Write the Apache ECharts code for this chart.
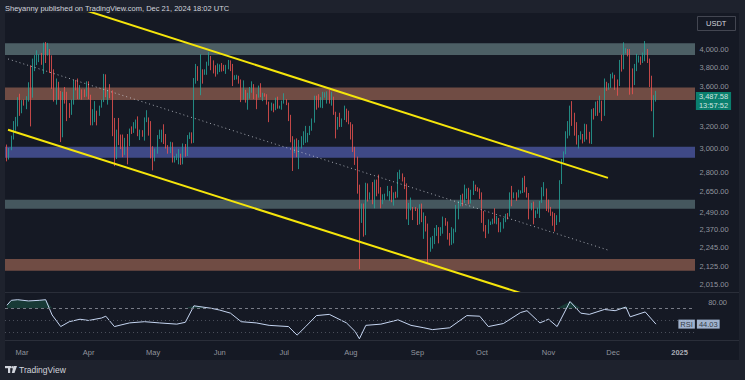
<!DOCTYPE html>
<html><head><meta charset="utf-8">
<script src="https://cdn.jsdelivr.net/npm/echarts@6/dist/echarts.min.js"></script>
<style>html,body{margin:0;padding:0;background:#1e222d;}#c{width:745px;height:380px;}</style>
</head><body><div id="c"></div>
<script>
// ETH/USDT daily candles: [open, close, low, high], starting 2024-02-23
const feb = [[2970,2922,2890,3035],[2922,2993,2905,3005],[2993,3113,2985,3115],[3113,3177,3080,3250],[3177,3244,3160,3290],[3244,3384,3200,3485],[3384,3340,3300,3520]];
const mar = [[3340,3433,3325,3455],[3433,3420,3400,3460],[3420,3488,3365,3495],[3488,3627,3440,3640],[3627,3553,3200,3825],[3553,3818,3480,3900],[3818,3868,3760,3940],[3868,3884,3827,3995],[3884,3908,3860,3950],[3908,3878,3830,3965],[3878,4066,3730,4086],[4066,3980,3850,4093],[3980,4005,3935,4083],[4005,3882,3740,4010],[3882,3735,3570,3937],[3735,3525,3440,3780],[3525,3645,3410,3680],[3645,3520,3460,3645],[3520,3160,3057,3548],[3160,3515,3100,3540],[3515,3490,3420,3590],[3490,3335,3250,3540],[3335,3330,3280,3425],[3330,3450,3310,3460],[3450,3590,3410,3665],[3590,3585,3555,3665],[3585,3500,3465,3680],[3500,3560,3465,3610],[3560,3510,3460,3565],[3510,3505,3485,3565],[3505,3645,3490,3650]];
const apr = [[3645,3505,3465,3650],[3505,3280,3210,3510],[3280,3310,3210,3365],[3310,3330,3240,3445],[3330,3320,3210,3350],[3320,3390,3300,3400],[3390,3455,3380,3460],[3455,3700,3435,3730],[3700,3505,3485,3725],[3505,3545,3410,3560],[3545,3505,3475,3620],[3505,3240,3110,3555],[3240,3010,2850,3280],[3010,3155,2910,3170],[3155,3100,3030,3280],[3100,3085,2995,3125],[3085,2985,2925,3125],[2985,3065,2945,3095],[3065,3055,2865,3130],[3055,3155,3020,3180],[3155,3145,3130,3200],[3145,3200,3140,3240],[3200,3220,3180,3265],[3220,3140,3110,3295],[3140,3155,3075,3170],[3155,3130,3105,3165],[3130,3255,3070,3285],[3255,3265,3240,3355],[3265,3215,3115,3285],[3215,3010,2915,3250]];
const may = [[3010,2970,2815,3020],[2970,2990,2890,3000],[2990,3100,2955,3120],[3100,3115,3085,3170],[3115,3140,3055,3170],[3140,3065,3040,3220],[3065,3005,3000,3130],[3005,2970,2955,3030],[2970,3035,2960,3060],[3035,2910,2880,3055],[2910,2910,2880,2935],[2910,2930,2900,2955],[2930,2950,2865,2995],[2950,2880,2860,2955],[2880,3035,2865,3045],[3035,2945,2930,3040],[2945,3090,2935,3120],[3090,3120,3085,3145],[3120,3070,3045,3145],[3070,3665,3050,3685],[3665,3790,3625,3840],[3790,3740,3655,3815],[3740,3780,3505,3950],[3780,3730,3625,3780],[3730,3750,3720,3780],[3750,3830,3720,3865],[3830,3890,3820,3975],[3890,3840,3770,3930],[3840,3765,3735,3880],[3765,3745,3700,3825],[3745,3760,3725,3845]];
const jun = [[3760,3815,3750,3835],[3815,3780,3755,3850],[3780,3765,3760,3830],[3765,3810,3730,3830],[3810,3865,3780,3885],[3865,3810,3760,3880],[3810,3680,3600,3840],[3680,3680,3665,3715],[3680,3705,3670,3720],[3705,3665,3625,3710],[3665,3500,3435,3670],[3500,3560,3460,3660],[3560,3470,3430,3560],[3470,3480,3360,3530],[3480,3565,3470,3590],[3565,3620,3530,3650],[3620,3510,3465,3620],[3510,3485,3365,3515],[3485,3560,3480,3605],[3560,3515,3485,3630],[3515,3515,3445,3530],[3515,3495,3490,3525],[3495,3420,3410,3515],[3420,3350,3240,3440],[3350,3390,3350,3430],[3390,3370,3335,3420],[3370,3450,3355,3480],[3450,3375,3370,3490],[3375,3380,3370,3400],[3380,3435,3360,3450]];
const jul = [[3435,3440,3420,3525],[3440,3420,3405,3465],[3420,3295,3250,3430],[3295,3060,3055,3310],[3060,2980,2810,3110],[2980,3070,2960,3080],[3070,2930,2925,3090],[2930,3020,2825,3075],[3020,3065,3000,3110],[3065,3100,3030,3155],[3100,3100,3050,3205],[3100,3130,3055,3140],[3130,3175,3120,3205],[3175,3245,3160,3275],[3245,3485,3235,3500],[3485,3445,3360,3500],[3445,3390,3380,3515],[3390,3425,3380,3485],[3425,3505,3375,3540],[3505,3520,3480,3535],[3520,3535,3420,3545],[3535,3440,3420,3560],[3440,3480,3400,3540],[3480,3335,3310,3490],[3335,3175,3090,3340],[3175,3275,3170,3290],[3275,3250,3195,3330],[3250,3270,3195,3275],[3270,3320,3260,3400],[3320,3280,3240,3370],[3280,3230,3220,3350]];
const aug = [[3230,3205,3080,3240],[3205,2990,2970,3220],[2990,2905,2860,3015],[2905,2690,2630,2930],[2690,2420,2110,2700],[2420,2460,2415,2555],[2460,2340,2320,2555],[2340,2685,2330,2715],[2685,2600,2570,2710],[2600,2610,2585,2640],[2610,2555,2550,2720],[2555,2720,2520,2740],[2720,2700,2610,2740],[2700,2660,2630,2780],[2660,2570,2520,2680],[2570,2590,2550,2625],[2590,2615,2580,2630],[2615,2615,2610,2690],[2615,2635,2575,2650],[2635,2570,2565,2690],[2570,2630,2540,2640],[2630,2625,2595,2645],[2625,2765,2600,2800],[2765,2770,2745,2820],[2770,2745,2725,2790],[2745,2680,2665,2760],[2680,2455,2440,2710],[2455,2530,2400,2560],[2530,2530,2505,2600],[2530,2525,2435,2530],[2525,2515,2500,2530]];
const sep = [[2515,2425,2400,2520],[2425,2540,2405,2550],[2540,2425,2420,2555],[2425,2450,2305,2490],[2450,2370,2355,2465],[2370,2225,2150,2410],[2225,2275,2220,2315],[2275,2295,2240,2325],[2295,2360,2270,2380],[2360,2390,2325,2400],[2390,2340,2275,2385],[2340,2360,2325,2385],[2360,2440,2340,2460],[2440,2415,2395,2450],[2415,2315,2300,2425],[2315,2295,2260,2345],[2295,2340,2265,2385],[2340,2370,2275,2375],[2370,2465,2350,2545],[2465,2560,2440,2575],[2560,2615,2535,2620],[2615,2580,2535,2630],[2580,2645,2560,2700],[2645,2650,2590,2670],[2650,2580,2550,2675],[2580,2630,2555,2660],[2630,2695,2620,2730],[2695,2680,2650,2700],[2680,2660,2645,2680],[2660,2600,2590,2670]];
const oct = [[2600,2450,2415,2640],[2450,2365,2355,2500],[2365,2350,2310,2400],[2350,2415,2340,2440],[2415,2415,2400,2425],[2415,2440,2405,2445],[2440,2420,2410,2520],[2420,2440,2405,2465],[2440,2370,2350,2450],[2370,2385,2350,2420],[2385,2440,2375,2450],[2440,2475,2420,2480],[2475,2465,2440,2485],[2465,2630,2460,2640],[2630,2605,2535,2690],[2605,2610,2595,2640],[2610,2605,2575,2640],[2605,2640,2600,2660],[2640,2645,2630,2655],[2645,2745,2635,2755],[2745,2665,2640,2770],[2665,2620,2600,2680],[2620,2525,2440,2635],[2525,2535,2505,2560],[2535,2475,2405,2570],[2475,2490,2450,2505],[2490,2505,2480,2525],[2505,2565,2450,2575],[2565,2640,2560,2680],[2640,2660,2610,2720],[2660,2515,2500,2670]];
const nov = [[2515,2510,2490,2585],[2510,2490,2465,2530],[2490,2455,2395,2495],[2455,2400,2355,2485],[2400,2425,2400,2470],[2425,2720,2420,2735],[2720,2900,2705,2910],[2900,2960,2880,2975],[2960,3125,2950,3155],[3125,3180,3090,3250],[3180,3370,3115,3400],[3370,3240,3205,3445],[3240,3190,3115,3330],[3190,3060,3035,3240],[3060,3110,3000,3120],[3110,3125,3080,3155],[3125,3075,3045,3130],[3075,3205,3060,3225],[3205,3105,3080,3220],[3105,3065,3045,3150],[3065,3355,3040,3365],[3355,3325,3265,3375],[3325,3390,3300,3440],[3390,3360,3300,3450],[3360,3415,3330,3500],[3415,3325,3250,3450],[3325,3650,3300,3680],[3650,3585,3550,3645],[3585,3590,3560,3630],[3590,3700,3580,3730]];
const dec = [[3700,3705,3680,3745],[3705,3640,3560,3720],[3640,3615,3500,3670],[3615,3835,3600,3885],[3835,3785,3755,3945],[3785,4000,3780,4090],[4000,4005,3960,4020],[4005,4000,3925,4010],[4000,3710,3510,4010],[3710,3625,3515,3790],[3625,3830,3610,3840],[3830,3880,3760,3955],[3880,3905,3855,3935],[3905,3875,3830,3925],[3875,3960,3850,3970],[3960,3990,3870,4105],[3990,3875,3850,4010],[3875,3620,3590,3900],[3620,3420,3345,3710],[3420,3470,3100,3505],[3470,3487.58,3440,3550]];

// horizontal zones [low, high]
const zoneGrayTop = [3940, 4080];
const zoneBrownTop = [3456, 3585];
const zoneBlue = [2920, 3015];
const zoneGrayLow = [2516, 2583];
const zoneBrownLow = [2100, 2174];

// channel lines [[date, price], [date, price]]
const upperLine = [['2024-03-28T00:00', 4513], ['2024-11-28T16:00', 2754]];
const lowerLine = [['2024-02-23T12:00', 3169], ['2024-10-23T10:00', 1951]];
const midLine = [['2024-02-23T12:00', 3896], ['2024-11-28T16:00', 2231]];

// price scale ticks
const priceTicks = [4000, 3800, 3600, 3200, 3000, 2800, 2650, 2490, 2370, 2245, 2125, 2015];
const lastPrice = 3487.58;
const countdown = '13:57:52';

// RSI readings
const rsiDates = ['2024-02-23','2024-02-25','2024-02-28','2024-03-04','2024-03-09','2024-03-12','2024-03-15','2024-03-19','2024-03-23','2024-03-28','2024-04-01','2024-04-07','2024-04-09','2024-04-13','2024-04-20','2024-04-27','2024-05-04','2024-05-12','2024-05-16','2024-05-20','2024-05-28','2024-06-01','2024-06-06','2024-06-11','2024-06-18','2024-06-24','2024-07-03','2024-07-07','2024-07-11','2024-07-16','2024-07-22','2024-07-30','2024-08-03','2024-08-05','2024-08-08','2024-08-15','2024-08-23','2024-08-29','2024-09-04','2024-09-08','2024-09-16','2024-09-24','2024-09-30','2024-10-04','2024-10-11','2024-10-19','2024-10-22','2024-10-28','2024-11-01','2024-11-05','2024-11-11','2024-11-16','2024-11-20','2024-11-27','2024-12-02','2024-12-07','2024-12-09','2024-12-16','2024-12-21'];
const rsiVals = [75,83,84,82,83,84,59,40,48,52,50,54,57,40,46,48,46,44,47,74,70,67,62,48,46,42,40,26,40,58,60,46,32,20,42,44,51,42,38,35,38,58,57,40,45,63,66,46,52,40,81,62,60,68,66,72,56,64,44];
const rsiTicks = [80];
const rsiLast = 44.03;

// axis month labels
const monthDates = ['2024-03-01','2024-04-01','2024-05-01','2024-06-01','2024-07-01','2024-08-01','2024-09-01','2024-10-01','2024-11-01','2024-12-01','2025-01-01'];
const monthLabels = ['Mar','Apr','May','Jun','Jul','Aug','Sep','Oct','Nov','Dec','2025'];

const T = s => new Date(s.length === 10 ? s + 'T00:00' : s).getTime();
const FONT = 'Liberation Sans, Arial, sans-serif';
const candles = [].concat(feb, mar, apr, may, jun, jul, aug, sep, oct, nov, dec);
const candleData = candles.map((r, i) => [new Date(2024, 1, 23 + i).getTime(), r[0], r[1], r[2], r[3]]);
const rsiData = rsiDates.map((d, i) => [T(d), rsiVals[i]]);
const rsiHigh = rsiDates.map((d, i) => [T(d), Math.max(70, rsiVals[i])]);
const fmt = v => v.toLocaleString('en-US', {minimumFractionDigits: 2, maximumFractionDigits: 2});

const X_MIN = T('2024-02-22T02:00'), X_MAX = T('2025-01-08T04:00');
const P_MIN = 1974, P_MAX = 4455;
const R_MIN = 18, R_MAX = 95;

const zone = (z, color) => [{yAxis: z[0], itemStyle: {color}}, {yAxis: z[1]}];
const lineData = l => l.map(p => [T(p[0]), p[1]]);

const chart = echarts.init(document.getElementById('c'), null, {renderer: 'svg'});
chart.setOption({
  animation: false,
  backgroundColor: '#1e222d',
  textStyle: {fontFamily: FONT},
  grid: [
    {left: 5, width: 690, top: 13, height: 279},
    {left: 5, width: 690, top: 293, height: 47},
    {left: 695, width: 44, top: 13, height: 279},
    {left: 695, width: 44, top: 293, height: 47},
    {left: 5, width: 690, top: 341, height: 19}
  ],
  xAxis: [
    {gridIndex: 0, type: 'time', min: X_MIN, max: X_MAX, show: false},
    {gridIndex: 1, type: 'time', min: X_MIN, max: X_MAX, show: false},
    {gridIndex: 2, type: 'value', min: 0, max: 10, show: false},
    {gridIndex: 3, type: 'value', min: 0, max: 10, show: false},
    {gridIndex: 4, type: 'time', min: X_MIN, max: X_MAX, show: false}
  ],
  yAxis: [
    {gridIndex: 0, type: 'log', logBase: 10, min: P_MIN, max: P_MAX, show: false},
    {gridIndex: 1, type: 'value', min: R_MIN, max: R_MAX, show: false},
    {gridIndex: 2, type: 'log', logBase: 10, min: P_MIN, max: P_MAX, show: false},
    {gridIndex: 3, type: 'value', min: R_MIN, max: R_MAX, show: false},
    {gridIndex: 4, type: 'value', min: 0, max: 1, show: false}
  ],
  graphic: [
    {type: 'rect', z: -10, silent: true, shape: {x: 5, y: 13, width: 734, height: 347}, style: {fill: '#151924'}},
    {type: 'line', z: 10, silent: true, shape: {x1: 5, y1: 292.5, x2: 739, y2: 292.5}, style: {stroke: '#2a2e39', lineWidth: 1}},
    {type: 'line', z: 10, silent: true, shape: {x1: 5, y1: 340.5, x2: 739, y2: 340.5}, style: {stroke: '#2a2e39', lineWidth: 1}},
    {type: 'text', z: 10, left: 5, top: 4, style: {text: 'Sheyanny published on TradingView.com, Dec 21, 2024 18:02 UTC', fill: '#d1d4dc', fontSize: 7.5, fontFamily: FONT}},
    {type: 'rect', z: 10, shape: {x: 697.5, y: 16.5, width: 38, height: 14}, style: {fill: '#151924', stroke: '#434651', lineWidth: 1}},
    {type: 'text', z: 11, left: 706, top: 19, style: {text: 'USDT', fill: '#d1d4dc', fontSize: 7.5, fontFamily: FONT}},
    {type: 'rect', z: 10, shape: {x: 5, y: 366, width: 6, height: 2.2}, style: {fill: '#d1d4dc'}},
    {type: 'rect', z: 10, shape: {x: 8, y: 366, width: 2.2, height: 7}, style: {fill: '#d1d4dc'}},
    {type: 'circle', z: 10, shape: {cx: 12.3, cy: 367.2, r: 1.2}, style: {fill: '#d1d4dc'}},
    {type: 'polygon', z: 10, shape: {points: [[13.5, 366], [17, 366], [14.5, 373], [11.8, 373]]}, style: {fill: '#d1d4dc'}},
    {type: 'text', z: 10, left: 19, top: 365, style: {text: 'TradingView', fill: '#d1d4dc', fontSize: 8.5, fontFamily: FONT}}
  ],
  series: [
    {
      type: 'candlestick', xAxisIndex: 0, yAxisIndex: 0, data: candleData,
      encode: {x: 0, y: [1, 2, 3, 4]}, barWidth: 1.2,
      itemStyle: {color: '#26a69a', color0: '#ef5350', borderColor: '#26a69a', borderColor0: '#ef5350', borderWidth: 0.8},
      markArea: {
        silent: true,
        data: [
          zone(zoneGrayTop, 'rgba(110,138,142,0.62)'),
          zone(zoneBrownTop, 'rgba(168,108,88,0.62)'),
          zone(zoneBlue, 'rgba(88,104,196,0.62)'),
          zone(zoneGrayLow, 'rgba(110,138,142,0.55)'),
          zone(zoneBrownLow, 'rgba(168,108,88,0.62)')
        ]
      }
    },
    {type: 'line', xAxisIndex: 0, yAxisIndex: 0, data: lineData(upperLine), symbol: 'none', lineStyle: {color: '#f5e50b', width: 2}, z: 5},
    {type: 'line', xAxisIndex: 0, yAxisIndex: 0, data: lineData(lowerLine), symbol: 'none', lineStyle: {color: '#f5e50b', width: 2}, z: 5},
    {type: 'line', xAxisIndex: 0, yAxisIndex: 0, data: lineData(midLine), symbol: 'none', lineStyle: {color: 'rgba(210,214,222,0.75)', width: 1, type: [1, 3]}, z: 5},
    {
      type: 'line', xAxisIndex: 1, yAxisIndex: 1, data: rsiHigh, symbol: 'none',
      lineStyle: {width: 0}, areaStyle: {origin: 70, color: 'rgba(38,166,110,0.35)'}
    },
    {
      type: 'line', xAxisIndex: 1, yAxisIndex: 1, data: rsiData, symbol: 'none',
      lineStyle: {color: '#c6d6f2', width: 1},
      markLine: {
        silent: true, symbol: ['none', 'none'], label: {show: false},
        data: [
          {yAxis: 70, lineStyle: {color: '#787b86', type: [3, 3], width: 1}},
          {yAxis: 50, lineStyle: {color: '#4a4e5a', type: [1, 3], width: 1}},
          {yAxis: 30, lineStyle: {color: '#4a4e5a', type: [1, 3], width: 1}}
        ]
      }
    },
    {
      type: 'scatter', xAxisIndex: 2, yAxisIndex: 2, symbolSize: 0,
      data: priceTicks.map(v => [1, v]),
      label: {show: true, position: 'right', distance: 0, formatter: p => fmt(p.value[1]), color: '#b2b5be', fontSize: 7.5, fontFamily: FONT}
    },
    {
      type: 'scatter', xAxisIndex: 2, yAxisIndex: 2, symbolSize: 0, z: 10,
      data: [[0.2, lastPrice]],
      label: {show: true, position: 'right', distance: 0, offset: [0, 4], formatter: fmt(lastPrice) + '\n' + countdown,
        backgroundColor: '#089981', color: '#ffffff', fontSize: 7.5, lineHeight: 8.5, padding: [1, 3, 0, 3], fontFamily: FONT}
    },
    {
      type: 'scatter', xAxisIndex: 3, yAxisIndex: 3, symbolSize: 0,
      data: rsiTicks.map(v => [3, v]),
      label: {show: true, position: 'right', distance: 0, formatter: p => fmt(p.value[1]), color: '#b2b5be', fontSize: 7.5, fontFamily: FONT}
    },
    {
      type: 'scatter', xAxisIndex: 3, yAxisIndex: 3, symbolSize: 0, z: 10,
      data: [
        {value: [0.2, rsiLast], label: {position: 'right', formatter: fmt(rsiLast)}},
        {value: [0.2, rsiLast], label: {position: 'left', formatter: 'RSI'}}
      ],
      label: {show: true, distance: 1, backgroundColor: '#c3d8f7', color: '#131722', fontSize: 7.5, padding: [1, 2, 0, 2], fontFamily: FONT}
    },
    {
      type: 'scatter', xAxisIndex: 4, yAxisIndex: 4, symbolSize: 0,
      data: monthDates.map((d, i) => ({value: [T(d), 0.37], label: i === monthLabels.length - 1 ? {fontWeight: 'bold', color: '#d1d4dc'} : {}})),
      label: {show: true, position: 'inside', formatter: p => monthLabels[p.dataIndex], color: '#b2b5be', fontSize: 7.5, fontFamily: FONT}
    }
  ]
});
</script></body></html>
